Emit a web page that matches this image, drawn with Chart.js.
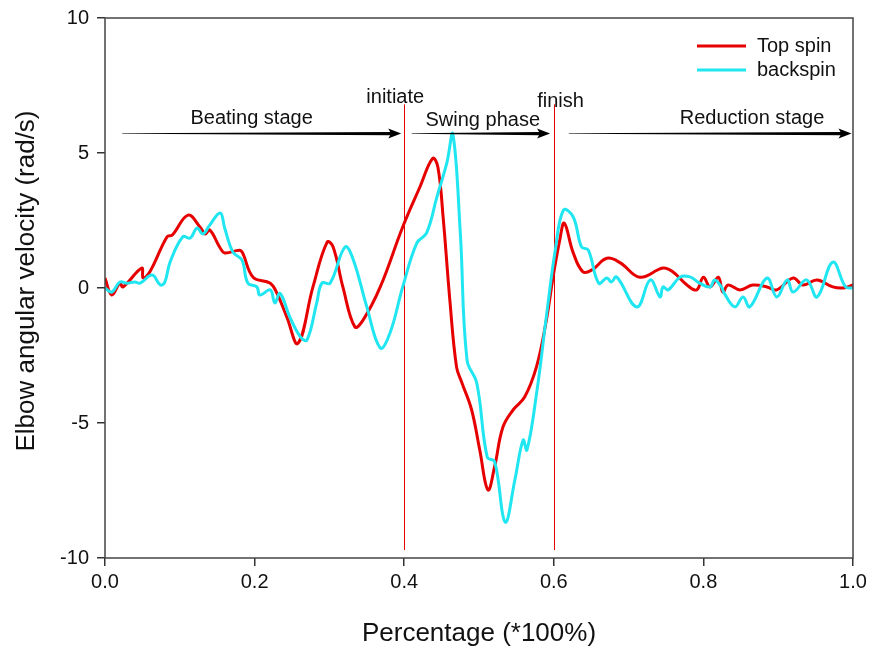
<!DOCTYPE html>
<html>
<head>
<meta charset="utf-8">
<script src="https://cdn.jsdelivr.net/npm/chart.js@4"></script>
<style>
  body { margin: 0; background: #fff; }
  #wrap { width: 879px; height: 650px; }
</style>
</head>
<body>
<div id="wrap"><canvas id="elbowChart" width="879" height="650"></canvas></div>
<script>
// Top spin (red)
const topX = [0, 0.009, 0.02, 0.024, 0.049, 0.051, 0.06, 0.083, 0.09, 0.111, 0.127, 0.134, 0.14, 0.154, 0.16, 0.18, 0.184, 0.198, 0.221, 0.23, 0.243, 0.258,
  0.278, 0.297, 0.305, 0.318, 0.334, 0.345, 0.368, 0.398, 0.421, 0.438, 0.445, 0.452, 0.461, 0.47, 0.477, 0.49, 0.501, 0.512, 0.521, 0.532, 0.546, 0.561,
  0.577, 0.59, 0.599, 0.608, 0.614, 0.626, 0.639, 0.651, 0.671, 0.689, 0.715, 0.746, 0.759, 0.778, 0.791, 0.8, 0.809, 0.82, 0.826, 0.833, 0.849, 0.866,
  0.885, 0.898, 0.92, 0.933, 0.952, 0.973, 0.987, 1.0];
const topY = [0.37, -0.26, 0.18, 0.04, 0.74, 0.37, 0.6, 1.9, 1.96, 2.7, 2.26, 2.0, 2.15, 1.48, 1.3, 1.4, 1.3, 0.4, 0.18, -0.2, -1.07, -2.05,
  0.04, 1.7, 1.52, 0.04, -1.44, -1.19, 0.04, 2.26, 3.74, 4.8, 4.48, 2.63, -0.44, -2.93, -3.5, -4.5, -6.0, -7.48, -6.6, -5.15, -4.5, -4.04,
  -2.9, -1.2, 0.4, 1.78, 2.4, 1.3, 0.6, 0.67, 1.1, 0.93, 0.4, 0.74, 0.6, 0.11, -0.07, 0.4, 0.04, 0.4, -0.15, 0.11, -0.07, 0.11,
  0.04, -0.07, 0.37, 0.11, 0.3, 0.04, 0, 0.11];

// backspin (cyan)
const backX = [0, 0.009, 0.02, 0.029, 0.04, 0.047, 0.063, 0.074, 0.08, 0.087, 0.104, 0.114, 0.123, 0.131, 0.14, 0.154, 0.16, 0.171, 0.183, 0.191, 0.203, 0.207,
  0.221, 0.227, 0.234, 0.247, 0.261, 0.27, 0.283, 0.29, 0.301, 0.321, 0.332, 0.35, 0.368, 0.381, 0.398, 0.417, 0.43, 0.444, 0.457, 0.465, 0.475, 0.484,
  0.497, 0.511, 0.521, 0.535, 0.548, 0.559, 0.564, 0.577, 0.59, 0.602, 0.613, 0.626, 0.637, 0.646, 0.66, 0.671, 0.677, 0.684, 0.711, 0.729, 0.742, 0.746,
  0.753, 0.769, 0.782, 0.795, 0.809, 0.815, 0.824, 0.828, 0.842, 0.853, 0.862, 0.885, 0.898, 0.912, 0.92, 0.938, 0.952, 0.973, 0.99, 1.0];
const backY = [0, -0.15, 0.22, 0.18, 0.22, 0.18, 0.48, 0.11, 0.22, 0.96, 1.9, 1.85, 2.22, 2.0, 2.33, 2.78, 2.22, 1.33, 1.04, 0.18, 0.04, -0.26,
  -0.07, -0.55, -0.2, -1.07, -1.8, -1.93, -0.56, 0.18, 0.18, 1.52, 1.04, -0.7, -2.22, -1.67, 0.04, 1.67, 2.04, 3.4, 4.63, 5.7, 2.04, -2.67,
  -3.52, -6.26, -6.44, -8.67, -7.1, -5.63, -6.0, -3.9, -1.07, 1.41, 2.89, 2.63, 1.52, 1.41, 0.18, 0.37, 0.22, 0.41, -0.7, 0.3, -0.33, 0.04,
  -0.07, 0.41, 0.41, 0.18, 0.04, 0.3, 0.04, -0.2, -0.7, -0.33, -0.7, 0.37, -0.33, 0.3, -0.15, 0.3, -0.33, 0.96, 0.04, 0];

const xTicks = [0, 0.2, 0.4, 0.6, 0.8, 1.0];
const yTicks = [-10, -5, 0, 5, 10];
const phaseLines = [0.4, 0.6];

const RED = '#e60000';
const CYAN = '#1fe6f0';
const FONT = '"Liberation Sans", Arial, sans-serif';

function pts(xs, ys) {
  return xs.map((x, i) => ({ x: x, y: ys[i] }));
}

// frame, phase lines, arrows, labels, legend
const decor = {
  id: 'decor',
  beforeDatasetsDraw(chart) {
    const { ctx, chartArea: a, scales: { x, y } } = chart;
    ctx.save();
    ctx.strokeStyle = RED;
    ctx.lineWidth = 1;
    phaseLines.forEach(v => {
      const px = Math.round(x.getPixelForValue(v)) + 0.5;
      ctx.beginPath();
      ctx.moveTo(px, y.getPixelForValue(6.8));
      ctx.lineTo(px, a.bottom - 8);
      ctx.stroke();
    });
    ctx.restore();
  },
  afterDatasetsDraw(chart) {
    const { ctx, chartArea: a, scales: { x, y } } = chart;
    ctx.save();
    // box
    ctx.strokeStyle = '#444';
    ctx.lineWidth = 1.5;
    ctx.strokeRect(a.left, a.top, a.right - a.left, a.bottom - a.top);

    // tapered arrows
    const ay = y.getPixelForValue(5.72);
    function arrow(v0, v1) {
      const x0 = x.getPixelForValue(v0), x1 = x.getPixelForValue(v1);
      ctx.fillStyle = '#000';
      ctx.beginPath();
      ctx.moveTo(x0, ay - 0.3);
      ctx.lineTo(x1 - 11, ay - 1.6);
      ctx.lineTo(x1 - 13, ay - 5);
      ctx.lineTo(x1, ay);
      ctx.lineTo(x1 - 13, ay + 5);
      ctx.lineTo(x1 - 11, ay + 1.6);
      ctx.lineTo(x0, ay + 0.3);
      ctx.closePath();
      ctx.fill();
    }
    arrow(0.023, 0.396);
    arrow(0.41, 0.595);
    arrow(0.62, 0.998);

    ctx.fillStyle = '#111';
    ctx.font = '20px ' + FONT;
    ctx.textAlign = 'center';
    ctx.textBaseline = 'middle';
    ctx.fillText('Beating stage', x.getPixelForValue(0.196), y.getPixelForValue(6.26));
    ctx.fillText('Swing phase', x.getPixelForValue(0.505), y.getPixelForValue(6.2));
    ctx.fillText('Reduction stage', x.getPixelForValue(0.865), y.getPixelForValue(6.26));
    ctx.fillText('initiate', x.getPixelForValue(0.388), y.getPixelForValue(7.04));
    ctx.fillText('finish', x.getPixelForValue(0.609), y.getPixelForValue(6.9));

    // legend
    const items = [['Top spin', RED], ['backspin', CYAN]];
    items.forEach((it, i) => {
      const ly = 46 + i * 24;
      ctx.strokeStyle = it[1];
      ctx.lineWidth = 3;
      ctx.beginPath();
      ctx.moveTo(697, ly);
      ctx.lineTo(746, ly);
      ctx.stroke();
      ctx.fillStyle = '#111';
      ctx.textAlign = 'left';
      ctx.fillText(it[0], 757, ly);
    });

    // y axis title
    ctx.translate(27, 281);
    ctx.rotate(-Math.PI / 2);
    ctx.textAlign = 'center';
    ctx.font = '26px ' + FONT;
    ctx.fillText('Elbow angular velocity (rad/s)', 0, 0);
    ctx.restore();
  }
};

const ctx = document.getElementById('elbowChart').getContext('2d');
const elbowChart = new Chart(ctx, {
  type: 'line',
  data: {
    datasets: [{
      label: 'backspin',
      data: pts(backX, backY),
      borderColor: CYAN,
      borderWidth: 3,
      pointRadius: 0,
      tension: 0.4,
      order: 1
    }, {
      label: 'Top spin',
      data: pts(topX, topY),
      borderColor: RED,
      borderWidth: 3,
      pointRadius: 0,
      tension: 0.4,
      order: 2
    }]
  },
  options: {
    responsive: false,
    animation: false,
    layout: { padding: { top: 18, right: 26, left: 0, bottom: 0 } },
    plugins: {
      legend: { display: false },
      tooltip: { enabled: false }
    },
    scales: {
      x: {
        type: 'linear',
        min: 0,
        max: 1,
        afterBuildTicks: s => { s.ticks = xTicks.map(v => ({ value: v })); },
        afterFit: s => { s.height = 92; s.paddingLeft = 0; s.paddingRight = 0; },
        grid: { drawOnChartArea: false, drawTicks: true, tickLength: 8, tickColor: '#333', lineWidth: 1.5 },
        border: { display: false },
        ticks: {
          color: '#111',
          font: { family: FONT, size: 20 },
          padding: 4,
          callback: v => v.toFixed(1)
        },
        title: {
          display: true,
          text: 'Percentage (*100%)',
          color: '#111',
          font: { family: FONT, size: 26 },
          padding: { top: 10, bottom: 1 }
        }
      },
      y: {
        min: -10,
        max: 10,
        afterBuildTicks: s => { s.ticks = yTicks.map(v => ({ value: v })); },
        afterFit: s => { s.width = 105; s.paddingTop = 0; s.paddingBottom = 0; },
        grid: { drawOnChartArea: false, drawTicks: true, tickLength: 8, tickColor: '#333', lineWidth: 1.5 },
        border: { display: false },
        ticks: {
          color: '#111',
          font: { family: FONT, size: 20 },
          padding: 8
        },
        title: { display: false }
      }
    }
  },
  plugins: [decor]
});
</script>
</body>
</html>
